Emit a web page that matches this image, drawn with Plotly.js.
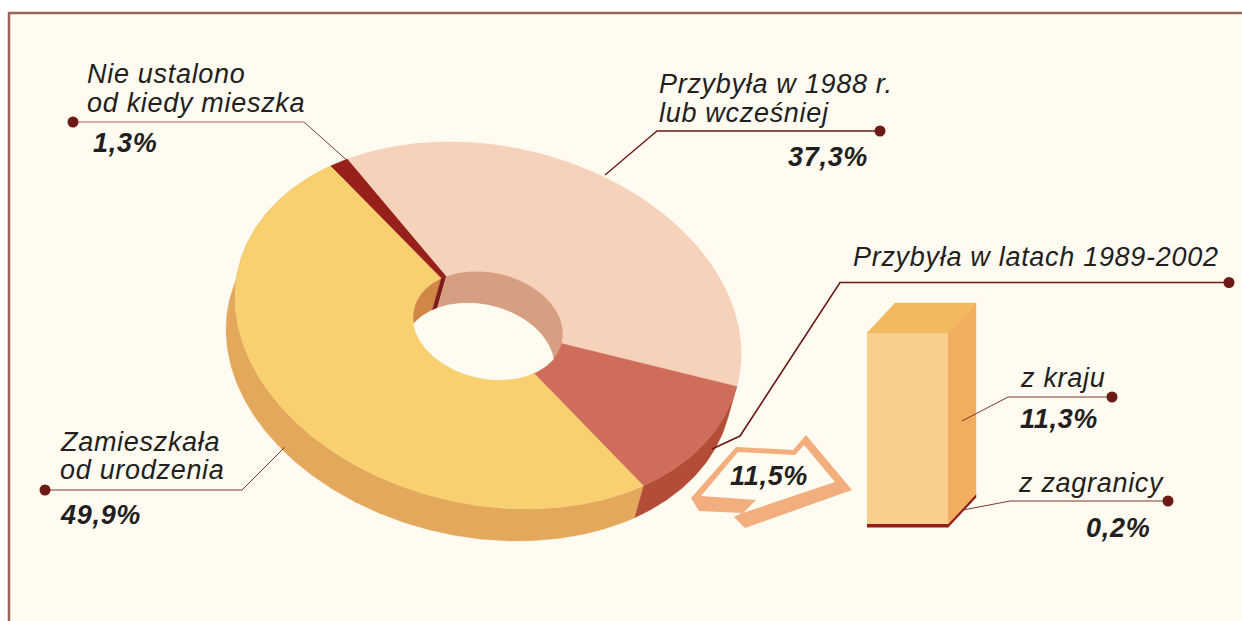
<!DOCTYPE html>
<html>
<head>
<meta charset="utf-8">
<script src="https://cdn.plot.ly/plotly-3.0.1.min.js"></script>
<style>html,body{margin:0;padding:0;background:#fff}#c{width:1242px;height:621px}
.annotation-text{letter-spacing:.7px}</style>
</head>
<body>
<div id="c"></div>
<script>
// ---- data ----
var sliceNames = ['Zamieszkała<br>od urodzenia', 'Nie ustalono<br>od kiedy mieszka', 'Przybyła w 1988 r.<br>lub wcześniej', 'Przybyła w latach 1989-2002'];
var sliceValues = [49.9, 1.3, 37.3, 11.5];
var barNames = ['z zagranicy', 'z kraju'];
var barValues = [0.2, 11.3];

// ---- styles ----
var topColors  = ['#f8d070', '#97211a', '#f7d2ba', '#ce6d59'];
var wallColors = ['#e4a85c', '#97211a', '#f7d2ba', '#b34d38'];
var innerColors = ['#cf8647', '#7d1a1a', '#d69f82', '#d69f82'];
var BG = '#fffbf1', INK = '#231f20', DARK = '#6b1a16';
var W = 1242, H = 621;

// ---- tilted pie geometry ----
var cx = 488, cy = 325.5;
var m11 = 253, m21 = 28, m22 = 181.35;   // disc -> screen
var holeScale = 0.297;
var dx = -9, dy = 32;                    // extrusion
var startDeg = 52.0;

function pt(deg, r, ox, oy) {
  var t = deg * Math.PI / 180, u = r * Math.cos(t), v = r * Math.sin(t);
  return [cx + (ox || 0) + m11 * u, cy + (oy || 0) + m21 * u + m22 * v];
}
function arc(a, b, r, ox, oy) {
  var out = [], n = Math.max(4, Math.ceil(Math.abs(b - a) * 1.5));
  for (var i = 0; i <= n; i++) out.push(pt(a + (b - a) * i / n, r, ox, oy));
  return out;
}
function poly(points, color, name) {
  var xs = points.map(function (p) { return p[0]; }), ys = points.map(function (p) { return p[1]; });
  xs.push(xs[0]); ys.push(ys[0]);
  return {type: 'scatter', mode: 'lines', x: xs, y: ys, fill: 'toself', fillcolor: color,
          line: {color: color, width: 0.4}, hoverinfo: 'skip', showlegend: false, name: name || ''};
}

var bounds = [], acc = startDeg;
sliceValues.forEach(function (v) { var a = acc; acc += v / 100 * 360; bounds.push([a, acc]); });

var traces = [];
// outer walls
bounds.forEach(function (b, i) {
  var top = arc(b[0], b[1], 1), low = arc(b[0], b[1], 1, dx, dy).reverse();
  traces.push(poly(top.concat(low), wallColors[i]));
});
// inner walls of the hole
bounds.forEach(function (b, i) {
  var top = arc(b[0], b[1], holeScale), low = arc(b[0], b[1], holeScale, dx, dy).reverse();
  traces.push(poly(top.concat(low), innerColors[i]));
});
// top faces
bounds.forEach(function (b, i) {
  traces.push(poly(arc(b[0], b[1], 1).concat(arc(b[0], b[1], holeScale).reverse()), topColors[i], sliceNames[i]));
});
// see-through part of the hole: hole ellipse ∩ shifted hole ellipse
function inHole(p, ox, oy) {
  var u = (p[0] - cx - ox) / m11, v = (p[1] - cy - oy - m21 * u) / m22;
  return u * u + v * v <= holeScale * holeScale + 1e-9;
}
var see = arc(0, 360, holeScale).filter(function (p) { return inHole(p, dx, dy); })
  .concat(arc(0, 360, holeScale, dx, dy).filter(function (p) { return inHole(p, 0, 0); }));
var mx = see.reduce(function (s, p) { return s + p[0]; }, 0) / see.length;
var my = see.reduce(function (s, p) { return s + p[1]; }, 0) / see.length;
see.sort(function (a, b) { return Math.atan2(a[1] - my, a[0] - mx) - Math.atan2(b[1] - my, b[0] - mx); });
traces.push(poly(see, BG));

// ---- 3D bar ----
var barLeft = 867, barRight = 948, barBase = 527.5, barTopPx = 333;
var barTotal = barValues[0] + barValues[1];
var depthX = 28, depthY = -30;
function barY(v) { return barBase - (barBase - barTopPx) * v / barTotal; }
var y0 = barY(0), y1 = barY(barValues[0]), y2 = barY(barTotal);
traces.push(poly([[barRight, y1], [barRight + depthX, y1 + depthY], [barRight + depthX, y0 + depthY], [barRight, y0]], '#8f1f17'));
traces.push(poly([[barRight, y2], [barRight + depthX, y2 + depthY], [barRight + depthX, y1 + depthY], [barRight, y1]], '#f2ae5e'));
traces.push(poly([[barLeft, y2], [barLeft + depthX, y2 + depthY], [barRight + depthX, y2 + depthY], [barRight, y2]], '#f3b95e'));
var barColors = ['#8f1f17', '#f6cf8c'];
barValues.forEach(function (v, i) {
  traces.push({type: 'bar', x: [0], y: [v], width: [1], xaxis: 'x2', yaxis: 'y2', name: barNames[i],
    marker: {color: barColors[i], line: {width: 0}}, hoverinfo: 'skip', showlegend: false});
});

// ---- leader lines ----
function leader(pts, color, width) {
  return {type: 'scatter', mode: 'lines', x: pts.map(function (p) { return p[0]; }), y: pts.map(function (p) { return p[1]; }),
    line: {color: color, width: width}, hoverinfo: 'skip', showlegend: false};
}
traces.push(leader([[73, 122], [304, 122]], '#a56a5c', 1.2));
traces.push(leader([[304, 122], [350, 163]], '#7a3a2e', 1));
traces.push(leader([[880, 131], [657, 131], [605, 175]], DARK, 1.3));
traces.push(leader([[1229, 282.5], [840, 282.5], [740, 436], [712, 449]], DARK, 1.6));
traces.push(leader([[45, 490], [242, 490], [285, 447]], '#7a3a2e', 1));
traces.push(leader([[1112, 397], [1008, 397], [962, 421]], '#7a3a2e', 1));
traces.push(leader([[1168, 501], [1010, 501], [963, 510]], '#7a3a2e', 1));
traces.push({type: 'scatter', mode: 'markers', x: [73, 880, 1229, 45, 1112, 1168], y: [122, 131, 282.5, 490, 397, 501],
  marker: {color: DARK, size: 11}, hoverinfo: 'skip', showlegend: false});

// ---- text ----
function pct(v) { return v.toFixed(1).replace('.', ',') + '%'; }
var FS = 27, FB = 27;
function note(text, x, y, bold) {
  return {text: text, x: x - 2.5, y: y, xref: 'x', yref: 'y', xanchor: 'left', yanchor: 'middle', showarrow: false, align: 'left',
    font: {family: '"Liberation Sans", Arial, sans-serif', size: bold ? FB : FS, style: 'italic', weight: bold ? 700 : 400, color: INK}};
}
function lines(name) { return name.split('<br>'); }
var annotations = [
  note(lines(sliceNames[1])[0], 87, 74), note(lines(sliceNames[1])[1], 87, 103), note(pct(sliceValues[1]), 93, 143, true),
  note(lines(sliceNames[2])[0], 659, 84), note(lines(sliceNames[2])[1], 659, 113), note(pct(sliceValues[2]), 788, 157, true),
  note(sliceNames[3], 853, 257),
  note(lines(sliceNames[0])[0], 60, 442), note(lines(sliceNames[0])[1], 60, 470), note(pct(sliceValues[0]), 60, 515, true),
  note(pct(sliceValues[3]), 730, 476, true),
  note(barNames[1], 1020, 378), note(pct(barValues[1]), 1020, 419, true),
  note(barNames[0], 1018, 483), note(pct(barValues[0]), 1086, 528, true)
];

// ---- frame + arrow ----
function path(pts) {
  return 'M' + pts.map(function (p) { return p[0] + ',' + p[1]; }).join('L') + 'Z';
}
var arrowOuter = [[691, 498], [736, 447], [793, 450], [806, 435], [852, 490], [745, 528], [734, 517], [742, 513], [699, 511]];
var arrowInner = [[701, 496], [738, 452], [795, 455], [804, 445], [835, 482], [743, 513], [756, 500]];
var shapes = [
  {type: 'rect', xref: 'x', yref: 'y', x0: 9, x1: 1243, y0: 13, y1: 622, fillcolor: BG, line: {width: 0}, layer: 'below'},
  {type: 'line', xref: 'x', yref: 'y', x0: 8, x1: 1242, y0: 13, y1: 13, line: {color: '#9c6658', width: 2.5}, layer: 'below'},
  {type: 'line', xref: 'x', yref: 'y', x0: 9, x1: 9, y0: 12, y1: 621, line: {color: '#9c6658', width: 2.5}, layer: 'below'},
  {type: 'path', xref: 'x', yref: 'y', path: path(arrowOuter), fillcolor: '#f3ae7d', line: {width: 0}, layer: 'above'},
  {type: 'path', xref: 'x', yref: 'y', path: path(arrowInner), fillcolor: BG, line: {width: 0}, layer: 'above'}
];

var layout = {
  width: W, height: H, margin: {l: 0, r: 0, t: 0, b: 0, pad: 0},
  paper_bgcolor: '#ffffff', plot_bgcolor: 'rgba(0,0,0,0)', showlegend: false, barmode: 'stack',
  xaxis: {range: [0, W], visible: false, fixedrange: true, domain: [0, 1]},
  yaxis: {range: [H, 0], visible: false, fixedrange: true, domain: [0, 1]},
  xaxis2: {range: [-0.5, 0.5], visible: false, fixedrange: true, domain: [barLeft / W, barRight / W], anchor: 'y2'},
  yaxis2: {range: [0, barTotal], visible: false, fixedrange: true,
           domain: [(H - barBase) / H, (H - barTopPx) / H], anchor: 'x2'},
  annotations: annotations, shapes: shapes
};
Plotly.newPlot('c', traces, layout, {displayModeBar: false, staticPlot: true});
</script>
</body>
</html>
